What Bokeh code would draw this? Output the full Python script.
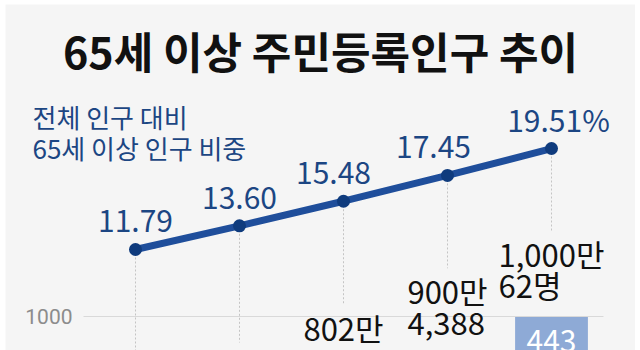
from bokeh.plotting import figure
from bokeh.models import Range1d, ColumnDataSource, LabelSet, Label, FixedTicker, LinearAxis
from bokeh.embed import file_html
from bokeh.resources import INLINE
from bokeh.core.properties import value

# ---------------- data ----------------
title_text = "65세 이상 주민등록인구 추이"
subtitle_line1 = "전체 인구 대비"
subtitle_line2 = "65세 이상 인구 비중"
share_pct = [11.79, 13.60, 15.48, 17.45, 19.51]
share_labels = ["11.79", "13.60", "15.48", "17.45", "19.51%"]
pop_man = [600.0, 700.0, 802.0, 900.4388, 1000.0062]
pop_labels = ["", "", "802만", "900만\n4,388", "1,000만\n62명"]
inner_labels = ["", "", "", "", "443"]
y_ticks = [1000]

positions = list(range(len(share_pct)))

# style helpers (not data)
share_dx = [0, 0, -10, -14, 7]
mask_height = 230  # bar-axis units hiding the leader line behind labels
band_lo, band_hi = -0.5, len(positions) - 0.5

src = ColumnDataSource(dict(
    x=positions,
    share=share_pct,
    share_label=share_labels,
    share_dx=share_dx,
    pop=pop_man,
    pop_label=pop_labels,
    inner=inner_labels,
    mask_top=[v + mask_height for v in pop_man],
    floor=[0] * len(pop_man),
))

BG = "#f5f5f5"
BLUE_TXT = "#1c4683"

p = figure(width=630, height=346, margin=(4, 5, 0, 5),
           x_range=Range1d(-1.25, 4.8077), y_range=Range1d(908.1, 1843.2),
           output_backend="svg", toolbar_location=None,
           x_axis_location=None, y_axis_location=None,
           min_border_left=0, min_border_right=0, min_border_top=0, min_border_bottom=0,
           background_fill_color=BG, border_fill_color=BG, outline_line_color=None)
p.extra_y_ranges = {"pct": Range1d(4.068, 30.52)}
p.xgrid.visible = False
p.ygrid.visible = False

ticker = FixedTicker(ticks=y_ticks)
ax = LinearAxis(ticker=ticker, fixed_location=band_lo)
ax.axis_line_color = None
ax.major_tick_line_color = None
ax.minor_tick_line_color = None
ax.major_tick_out = 0
ax.major_tick_in = 0
ax.major_label_standoff = 11
ax.major_label_text_color = "#8c8c8c"
ax.major_label_text_font = "Roboto"
ax.major_label_text_font_size = "21px"
p.add_layout(ax, "left")

# leader lines
p.segment(x0="x", x1="x", y0="share", y1="floor", source=src, y_range_name="pct",
          line_color="#c4c4c4", line_width=1, line_dash="2 2")
# mask behind bar labels
p.vbar(x="x", bottom="pop", top="mask_top", width=0.2, source=src,
       fill_color=BG, line_color=None)
# bars
p.vbar(x="x", top="pop", bottom=0, width=0.7, source=src,
       fill_color="#8eaad6", line_color=None)
# horizontal gridline at the tick value
p.segment(x0=[band_lo] * len(y_ticks), x1=[band_hi] * len(y_ticks), y0=y_ticks, y1=y_ticks,
          line_color="#d9d9d9", line_width=1)
# line
p.line(x="x", y="share", source=src, y_range_name="pct", line_width=7, line_color="#1f4e9b")
p.scatter(x="x", y="share", source=src, y_range_name="pct", size=13,
          fill_color="#0f3b7d", line_color=None)

font = value("Noto Sans CJK KR")

p.add_layout(LabelSet(x="x", y="share", text="share_label", source=src, y_range_name="pct",
                      x_offset="share_dx", y_offset=17, text_align="center",
                      text_baseline="alphabetic", text_font=font, text_font_size=value("30px"),
                      text_color=BLUE_TXT))
p.add_layout(LabelSet(x="x", y="pop", text="pop_label", source=src,
                      y_offset=85, text_align="center", text_baseline="top",
                      text_font=font, text_font_size=value("31px"), text_color="#111111",
                      text_line_height=0.68))
p.add_layout(LabelSet(x="x", y="pop", text="inner", source=src,
                      y_offset=-14, text_align="center", text_baseline="top",
                      text_font=font, text_font_size=value("30px"), text_color="white"))

p.add_layout(Label(x=315, y=301, x_units="screen", y_units="screen", text=title_text,
                   text_align="center", text_baseline="middle", text_font="Noto Sans CJK KR",
                   text_font_style="bold", text_font_size="43px", text_color="#111111"))
p.add_layout(Label(x=27, y=253, x_units="screen", y_units="screen", text=subtitle_line1,
                   text_align="left", text_baseline="top", text_font="Noto Sans CJK KR",
                   text_font_size="26px", text_color=BLUE_TXT))
p.add_layout(Label(x=27, y=222, x_units="screen", y_units="screen", text=subtitle_line2,
                   text_align="left", text_baseline="top", text_font="Noto Sans CJK KR",
                   text_font_size="26px", text_color=BLUE_TXT))

open("out.html", "w").write(file_html(p, INLINE))
